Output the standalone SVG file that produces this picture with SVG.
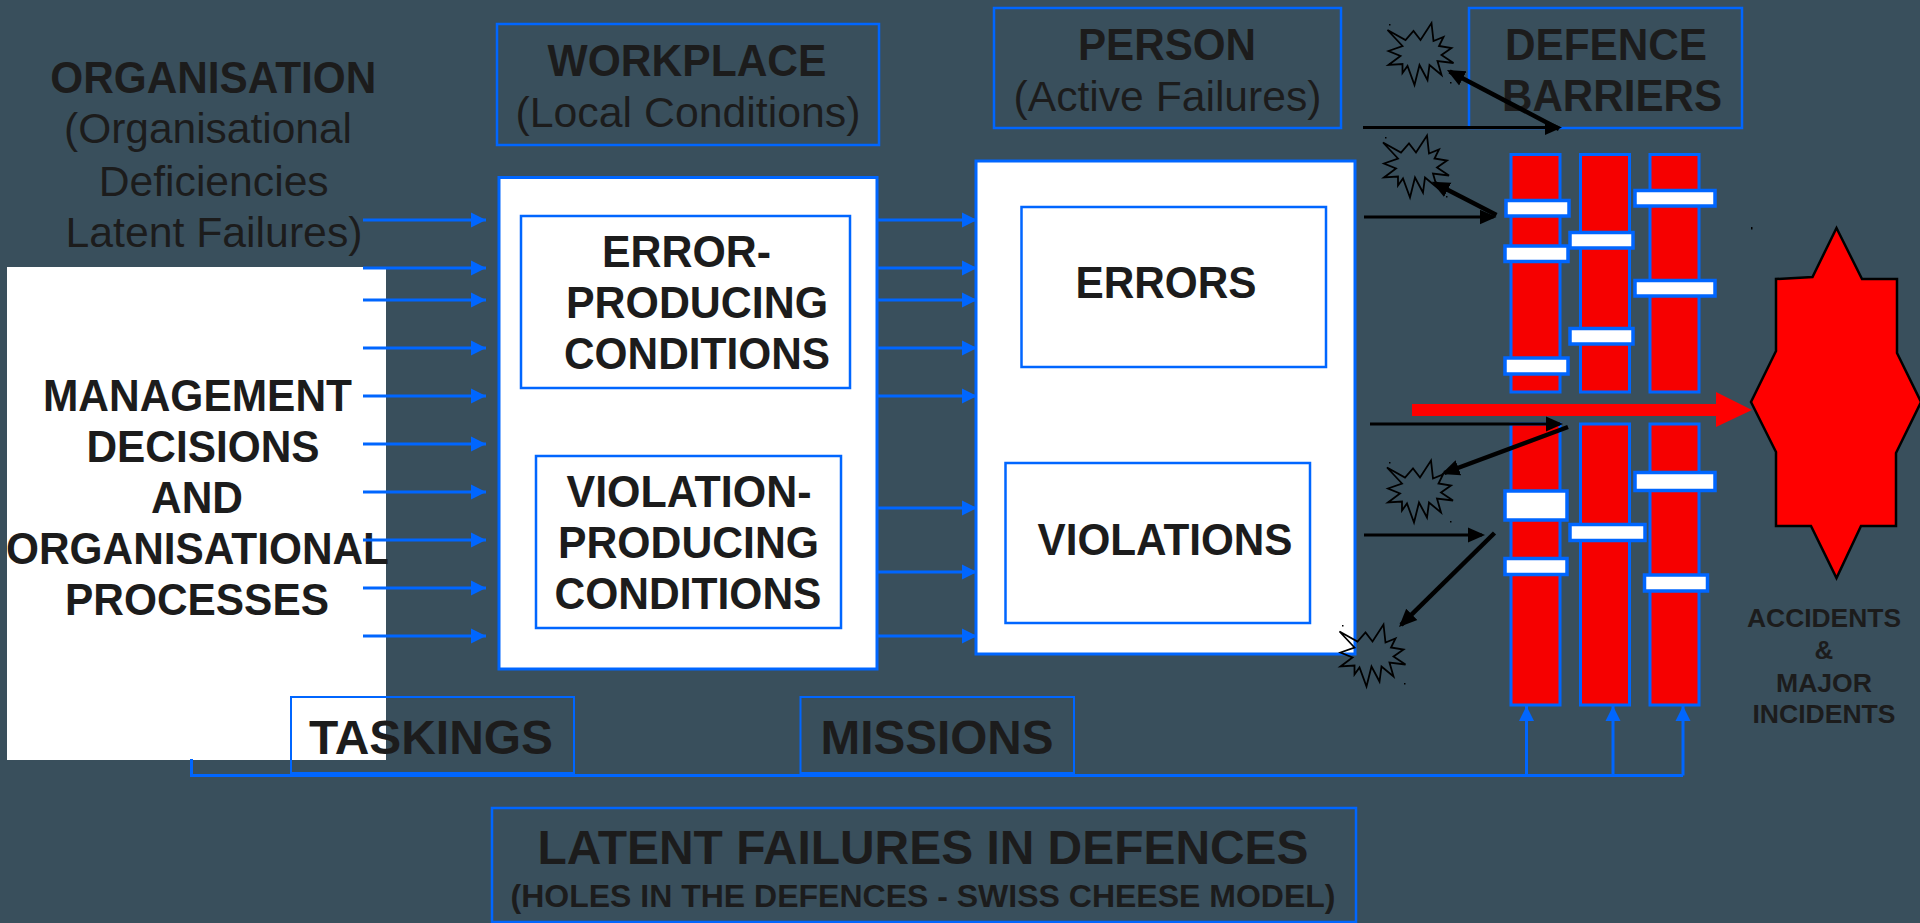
<svg xmlns="http://www.w3.org/2000/svg" width="1920" height="923" viewBox="0 0 1920 923">
<style>
text{font-family:"Liberation Sans",Arial,sans-serif;fill:#1c1c1c;text-anchor:middle}
.b{font-weight:700;font-size:44px}
.t{font-weight:700;font-size:48px}
.r{font-size:42.500px}
.s{font-weight:700;font-size:32px}
.a{font-weight:700;font-size:26px}
.box{fill:none;stroke:#0066ff;stroke-width:2.500}
.thin{stroke-width:2}
.wb{fill:#fff;stroke:#0066ff;stroke-width:3}
.bar{fill:#f60000;stroke:#0066ff;stroke-width:3}
.hole{fill:#fff;stroke:#0066ff;stroke-width:3.500}
.bl{fill:none;stroke:#0066ff;stroke-width:3;marker-end:url(#ba)}
.bp{fill:none;stroke:#0066ff;stroke-width:3}
.k1{stroke:#000;stroke-width:3;marker-end:url(#ka)}
.k2{stroke:#000;stroke-width:4.500;marker-end:url(#kb)}
.star{fill:none;stroke:#000;stroke-width:1.800}
.dot{fill:#000}
</style>
<defs>
<marker id="ba" markerUnits="userSpaceOnUse" markerWidth="16" markerHeight="16" refX="15" refY="8" orient="auto"><path d="M0 .5L15 8L0 15.500z" fill="#0066ff"/></marker>
<marker id="ka" markerUnits="userSpaceOnUse" markerWidth="18" markerHeight="18" refX="14" refY="9" orient="auto"><path d="M0 1.500L17 9L0 16.500z" fill="#000"/></marker>
<marker id="kb" markerUnits="userSpaceOnUse" markerWidth="20" markerHeight="18" refX="15" refY="9" orient="auto"><path d="M0 1L18 9L0 17z" fill="#000"/></marker>
<polygon id="st" points="-33,-23 -15,-13 -7,-22 0,-13 11,-30 13,-12 23,-16 18.500,-7 31,-5 21,2 33,10 17,8 21,22 9,12 7,27 -1,12 -6,32 -13,13 -18,20 -18,11 -32,12 -20,3 -32,-2 -18,-7"/>
</defs>
<rect width="1920" height="923" fill="#394f5c"/>
<g id="organisation">
<text class="b" x="213.300" y="92.700" textLength="326" lengthAdjust="spacingAndGlyphs">ORGANISATION</text>
<text class="r" x="208" y="143" textLength="288" lengthAdjust="spacingAndGlyphs">(Organisational</text>
<text class="r" x="213.700" y="195.500" textLength="230" lengthAdjust="spacingAndGlyphs">Deficiencies</text>
<text class="r" x="214" y="246.500" textLength="297" lengthAdjust="spacingAndGlyphs">Latent Failures)</text>
</g>
<g id="management">
<rect x="7" y="267" width="379" height="493" fill="#fff"/>
<text class="b" x="197.500" y="410.700" textLength="309" lengthAdjust="spacingAndGlyphs">MANAGEMENT</text>
<text class="b" x="203" y="461.700" textLength="233" lengthAdjust="spacingAndGlyphs">DECISIONS</text>
<text class="b" x="197" y="512.700" textLength="92" lengthAdjust="spacingAndGlyphs">AND</text>
<text class="b" x="197.500" y="564" textLength="383" lengthAdjust="spacingAndGlyphs">ORGANISATIONAL</text>
<text class="b" x="197" y="615" textLength="264" lengthAdjust="spacingAndGlyphs">PROCESSES</text>
</g>
<g id="workplace-title">
<rect class="box" x="497" y="24" width="382" height="121"/>
<text class="b" x="687" y="76" textLength="279" lengthAdjust="spacingAndGlyphs">WORKPLACE</text>
<text class="r" x="688" y="126.700" textLength="345" lengthAdjust="spacingAndGlyphs">(Local Conditions)</text>
</g>
<g id="workplace">
<rect class="wb" x="499" y="177.500" width="378" height="491.500"/>
</g>
<g id="error-conditions">
<rect class="box" x="521" y="216" width="329" height="172"/>
<text class="b" x="686.500" y="267" textLength="169" lengthAdjust="spacingAndGlyphs">ERROR-</text>
<text class="b" x="697" y="318" textLength="262" lengthAdjust="spacingAndGlyphs">PRODUCING</text>
<text class="b" x="697" y="369" textLength="266" lengthAdjust="spacingAndGlyphs">CONDITIONS</text>
</g>
<g id="violation-conditions">
<rect class="box" x="536" y="456" width="305" height="172"/>
<text class="b" x="689" y="507" textLength="245" lengthAdjust="spacingAndGlyphs">VIOLATION-</text>
<text class="b" x="688.500" y="558" textLength="261" lengthAdjust="spacingAndGlyphs">PRODUCING</text>
<text class="b" x="688" y="609" textLength="267" lengthAdjust="spacingAndGlyphs">CONDITIONS</text>
</g>
<g id="person-title">
<rect class="box" x="994" y="8" width="347" height="120"/>
<text class="b" x="1167" y="60" textLength="178" lengthAdjust="spacingAndGlyphs">PERSON</text>
<text class="r" x="1167.500" y="111" textLength="308" lengthAdjust="spacingAndGlyphs">(Active Failures)</text>
</g>
<g id="person">
<rect class="wb" x="976" y="161" width="379" height="493"/>
</g>
<g id="errors">
<rect class="box" x="1021.500" y="207" width="304.500" height="160"/>
<text class="b" x="1166" y="298" textLength="181" lengthAdjust="spacingAndGlyphs">ERRORS</text>
</g>
<g id="violations">
<rect class="box" x="1005.500" y="463" width="304.500" height="160"/>
<text class="b" x="1165" y="555" textLength="255" lengthAdjust="spacingAndGlyphs">VIOLATIONS</text>
</g>
<g id="barriers-title">
<rect class="box" x="1469" y="8" width="273" height="120"/>
<text class="b" x="1606" y="60" textLength="202" lengthAdjust="spacingAndGlyphs">DEFENCE</text>
<text class="b" x="1612" y="111" textLength="220" lengthAdjust="spacingAndGlyphs">BARRIERS</text>
</g>
<g id="barrier-upper">
<rect class="bar" x="1511" y="154.500" width="49" height="237.500"/>
<rect class="bar" x="1580.500" y="154.500" width="49" height="237.500"/>
<rect class="bar" x="1650" y="154.500" width="49" height="237.500"/>
<rect class="hole" x="1506" y="200.500" width="63" height="15.500"/>
<rect class="hole" x="1505" y="246" width="63" height="15.500"/>
<rect class="hole" x="1505" y="358" width="63" height="16"/>
<rect class="hole" x="1570" y="232.500" width="63" height="15.500"/>
<rect class="hole" x="1570" y="328.500" width="63" height="15.500"/>
<rect class="hole" x="1635" y="190.500" width="80" height="15.500"/>
<rect class="hole" x="1635" y="280.500" width="80" height="15.500"/>
</g>
<g id="barrier-lower">
<rect class="bar" x="1511" y="424" width="49" height="281"/>
<rect class="bar" x="1580.500" y="424" width="49" height="281"/>
<rect class="bar" x="1650" y="424" width="49" height="281"/>
<rect class="hole" x="1505" y="491" width="62" height="29"/>
<rect class="hole" x="1505" y="558.500" width="62" height="16"/>
<rect class="hole" x="1570" y="524.500" width="75" height="16"/>
<rect class="hole" x="1635" y="472.500" width="80" height="18"/>
<rect class="hole" x="1644.500" y="575" width="63" height="16"/>
</g>
<g id="accident">
<polygon points="1836.500,228 1862,279 1897,279 1897,353 1921,402 1896,453 1896,526 1861,526 1836.500,578 1811,526 1776,526 1776,452 1751,402 1776,351 1776,279 1812.500,277" fill="#f00" stroke="#000" stroke-width="2.500"/>
<text class="a" x="1824" y="627" textLength="154" lengthAdjust="spacingAndGlyphs">ACCIDENTS</text>
<text class="a" x="1824" y="659">&amp;</text>
<text class="a" x="1824" y="692" textLength="96" lengthAdjust="spacingAndGlyphs">MAJOR</text>
<text class="a" x="1824" y="723" textLength="143" lengthAdjust="spacingAndGlyphs">INCIDENTS</text>
</g>
<g id="bursts">
<use href="#st" class="star" x="1420.500" y="53"/>
<use href="#st" class="star" x="1416" y="165.500"/>
<use href="#st" class="star" x="1420" y="490.500"/>
<use href="#st" class="star" x="1372.500" y="654.500"/>
<path class="dot" d="M1389 24h1.500v1.500h-1.500zM1450 82h1.500v1.500h-1.500zM1385 137h1.500v1.500h-1.500zM1446 196h1.500v1.500h-1.500zM1751 227h1.500v2.500h-1.500zM1389 462h1.500v1.500h-1.500zM1450 521h1.500v1.500h-1.500zM1342 625h1.500v1.500h-1.500zM1404 683h1.500v1.500h-1.500z"/>
</g>
<g id="taskings">
<rect class="box thin" x="291" y="697" width="283" height="76"/>
<text class="t" x="431" y="754" textLength="244" lengthAdjust="spacingAndGlyphs">TASKINGS</text>
</g>
<g id="missions">
<rect class="box thin" x="800.500" y="697" width="273.500" height="76"/>
<text class="t" x="937" y="754" textLength="233" lengthAdjust="spacingAndGlyphs">MISSIONS</text>
</g>
<g id="latent">
<rect class="box" x="492" y="808" width="864" height="114"/>
<text class="t" x="923" y="864" textLength="771" lengthAdjust="spacingAndGlyphs">LATENT FAILURES IN DEFENCES</text>
<text class="s" x="923" y="907" textLength="825" lengthAdjust="spacingAndGlyphs">(HOLES IN THE DEFENCES - SWISS CHEESE MODEL)</text>
</g>
<g id="connectors">
<path class="bl" d="M363 220H486"/><path class="bl" d="M363 268H486"/><path class="bl" d="M363 300H486"/><path class="bl" d="M363 348H486"/><path class="bl" d="M363 396H486"/><path class="bl" d="M363 444H486"/><path class="bl" d="M363 492H486"/><path class="bl" d="M363 540H486"/><path class="bl" d="M363 588H486"/><path class="bl" d="M363 636H486"/>
<path class="bl" d="M877 220H977"/><path class="bl" d="M877 268H977"/><path class="bl" d="M877 300H977"/><path class="bl" d="M877 348H977"/><path class="bl" d="M877 396H977"/><path class="bl" d="M877 508H977"/><path class="bl" d="M877 572H977"/><path class="bl" d="M877 636H977"/>
<path class="bp" d="M191.500 759V775.500H1683"/>
<path class="bl" d="M1526.500 775.500V706"/><path class="bl" d="M1613 775.500V706"/><path class="bl" d="M1683 775.500V706"/>
<polygon points="1412,404 1716,404 1716,392 1752,410 1716,427 1716,416 1412,416" fill="#f00"/>
<line class="k1" x1="1363" y1="127.500" x2="1559" y2="127.500"/>
<line class="k1" x1="1364" y1="217" x2="1493.500" y2="217"/>
<line class="k1" x1="1370" y1="424" x2="1560" y2="424"/>
<line class="k1" x1="1364" y1="535" x2="1482" y2="535"/>
<line class="k2" x1="1559" y1="129" x2="1449.600" y2="71.400"/>
<line class="k2" x1="1496.500" y1="215" x2="1434.400" y2="183"/>
<line class="k2" x1="1568" y1="427" x2="1444.300" y2="473"/>
<line class="k2" x1="1494.500" y1="533" x2="1401.100" y2="624.900"/>
</g>
</svg>
